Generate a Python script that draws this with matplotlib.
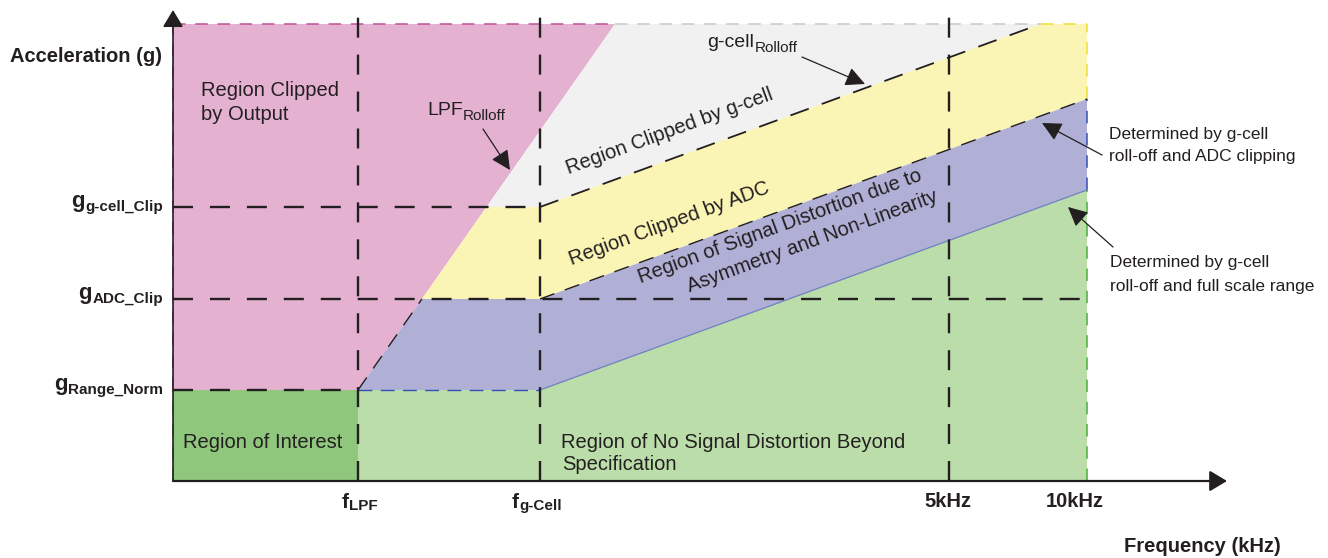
import matplotlib
matplotlib.use("Agg")
import matplotlib.pyplot as plt
import numpy as np

plt.rcParams["font.family"] = ["Liberation Sans", "DejaVu Sans"]
plt.rcParams["lines.scale_dashes"] = False

# schematic axes: frequency breakpoints and acceleration levels (chart units)
freq_names = ["LPF", "g-Cell"]
freq_pos = [185, 367]
khz_labels = ["5kHz", "10kHz"]
khz_pos = [776, 914]
g_names = ["g-cell_Clip", "ADC_Clip", "Range_Norm"]
g_levels = [274, 182, 91]
g_top = 457          # top of the plotted range
lpf_top_f = 442      # frequency where the LPF roll-off reaches the top
rolloff_rise = 200   # rise of the g-cell roll-off lines between f_g-Cell and 10kHz

f_lpf, f_gcell = freq_pos
f_5k, f_10k = khz_pos
g_gcell, g_adc, g_norm = g_levels

INK = "#231f20"
PINK, GREY, YELLOW = "#e4b1d0", "#f1f1f1", "#faf5b4"
PURPLE, LGREEN, DGREEN = "#b0afd6", "#bbddaa", "#8fc87c"


def lpf_f(g):
    return f_lpf + (g - g_norm) * (lpf_top_f - f_lpf) / (g_top - g_norm)


def roll_g(g0, f):
    return g0 + rolloff_rise * (f - f_gcell) / (f_10k - f_gcell)


def roll_f(g0, g):
    return f_gcell + (g - g0) * (f_10k - f_gcell) / rolloff_rise


fig = plt.figure(figsize=(13.28, 5.58), dpi=100)
ax = fig.add_axes([0, 0, 1, 1])
ax.set_xlim(-173, 1155)
ax.set_ylim(-77, 481)
ax.axis("off")

f_cap = roll_f(g_gcell, g_top)

# regions
regions = [
    (PINK, [0, lpf_f(g_top), f_lpf, 0], [g_top, g_top, g_norm, g_norm]),
    (GREY, [lpf_f(g_gcell), lpf_f(g_top), f_cap, f_gcell],
     [g_gcell, g_top, g_top, g_gcell]),
    (YELLOW, [lpf_f(g_adc), lpf_f(g_gcell), f_gcell, f_cap, f_10k, f_10k, f_gcell],
     [g_adc, g_gcell, g_gcell, g_top, g_top, roll_g(g_adc, f_10k), g_adc]),
    (PURPLE, [f_lpf, lpf_f(g_adc), f_gcell, f_10k, f_10k, f_gcell],
     [g_norm, g_adc, g_adc, roll_g(g_adc, f_10k), roll_g(g_norm, f_10k), g_norm]),
    (LGREEN, [f_lpf, f_lpf, f_gcell, f_10k, f_10k],
     [0, g_norm, g_norm, roll_g(g_norm, f_10k), 0]),
    (DGREEN, [0, f_lpf, f_lpf, 0], [0, 0, g_norm, g_norm]),
]
for col, xs, ys in regions:
    ax.fill(xs, ys, color=col, lw=0, zorder=1)

# coloured region edges
thin = dict(lw=1.1, dashes=(9, 7), zorder=2)
ax.plot([0, lpf_f(g_top)], [g_top, g_top], color="#c0509a", **thin)
ax.plot([lpf_f(g_top), f_cap], [g_top, g_top], color="#c8c8c8", **thin)
ax.plot([f_cap, f_10k], [g_top, g_top], color="#f0e030", **thin)
ax.plot([0, 0], [g_norm, g_top], color="#c0509a", **thin)
ax.plot([0, 0], [0, g_norm], color="#4cae3c", **thin)
ax.plot([f_10k, f_10k], [roll_g(g_adc, f_10k), g_top], color="#f0e030", **thin)
ax.plot([f_10k, f_10k], [roll_g(g_norm, f_10k), roll_g(g_adc, f_10k)], color="#3550b8", **thin)
ax.plot([f_10k, f_10k], [0, roll_g(g_norm, f_10k)], color="#4cae3c", **thin)
ax.plot([f_lpf, f_gcell], [g_norm, g_norm], color="#3550b8", lw=1.0, dashes=(10, 6), zorder=2)
ax.plot([f_gcell, f_10k], [g_norm, roll_g(g_norm, f_10k)], color="#6f7fc4", lw=0.9, zorder=2)

# black dashed guide lines
dash = dict(color=INK, lw=1.7, dashes=(14.4, 12.2), zorder=3)
for f in [f_lpf, f_gcell, f_5k]:
    ax.plot([f, f], [0, 466], **dash)
ax.plot([0, f_gcell], [g_gcell, g_gcell], **dash)
ax.plot([0, f_10k], [g_adc, g_adc], **dash)
ax.plot([0, f_lpf], [g_norm, g_norm], **dash)
ax.plot([f_gcell, f_cap], [g_gcell, g_top], color=INK, lw=1.3, dashes=(14, 10), zorder=3)
ax.plot([f_gcell, f_10k], [g_adc, roll_g(g_adc, f_10k)], color=INK, lw=1.0, dashes=(11, 8), zorder=3)
ax.plot([f_lpf, lpf_f(g_adc)], [g_norm, g_adc], color=INK, lw=1.0, dashes=(11, 8), zorder=3)

# axes with arrows
ax.annotate("", xy=(0, 471), xytext=(0, 0), zorder=4,
            arrowprops=dict(arrowstyle="-|>,head_length=0.7,head_width=0.42", mutation_scale=15,
                            lw=1.2, color=INK, shrinkA=0, shrinkB=0))
ax.annotate("", xy=(1054, 0), xytext=(0, 0), zorder=4,
            arrowprops=dict(arrowstyle="-|>,head_length=0.7,head_width=0.42", mutation_scale=15,
                            lw=1.6, color=INK, shrinkA=0, shrinkB=0))


def label_left(x, y, main, sub, size, sub_size, drop, weight="normal"):
    t = ax.text(x, y, main, ha="left", va="baseline", fontsize=size,
                fontweight=weight, color=INK, zorder=5)
    ax.annotate(sub, xy=(1, y - drop), xycoords=(t, "data"), xytext=(0.3, 0),
                textcoords="offset points", ha="left", va="baseline",
                fontsize=sub_size, fontweight=weight, color=INK, zorder=5)


def label_right(x, y, main, sub, size, sub_size, drop, weight="normal"):
    s = ax.text(x, y - drop, sub, ha="right", va="baseline", fontsize=sub_size,
                fontweight=weight, color=INK, zorder=5)
    ax.annotate(main, xy=(0, y), xycoords=(s, "data"), xytext=(-0.3, 0),
                textcoords="offset points", ha="right", va="baseline",
                fontsize=size, fontweight=weight, color=INK, zorder=5)


# axis labels
ax.text(-163, 424, "Acceleration (g)", ha="left", va="center", fontsize=14.5,
        fontweight="bold", color=INK)
ax.text(1029, -66, "Frequency (kHz)", ha="center", va="center", fontsize=14.5,
        fontweight="bold", color=INK)
for name, lev in zip(g_names, g_levels):
    label_right(-10, lev, "g", name, 16, 11, 4, weight="bold")
for name, f, off in zip(freq_names, freq_pos, [-16, -28]):
    label_left(f + off, -27, "f", name, 15, 11, 2, weight="bold")
for lab, f, off in zip(khz_labels, khz_pos, [-1, -12]):
    ax.text(f + off, -26, lab, ha="center", va="baseline", fontsize=14.5,
            fontweight="bold", color=INK)

# region labels
txt = dict(fontsize=14.5, color=INK, zorder=5)
ax.text(28, 391, "Region Clipped", ha="left", va="center", **txt)
ax.text(28, 366, "by Output", ha="left", va="center", **txt)
ax.text(10, 39, "Region of Interest", ha="left", va="center", **txt)
ax.text(388, 38, "Region of No Signal Distortion Beyond", ha="left", va="center", **txt)
ax.text(389, 16, "Specification", ha="left", va="center", **txt)

ang = np.degrees(np.arctan2(rolloff_rise, f_10k - f_gcell))
rot = dict(rotation=ang, rotation_mode="anchor", ha="center", va="center", **txt)
ax.text(497, 350, "Region Clipped by g-cell", **rot)
ax.text(496, 257, "Region Clipped by ADC", **rot)
ax.text(607, 255, "Region of Signal Distortion due to", **rot)
ax.text(639, 240, "Asymmetry and Non-Linearity", **rot)

label_left(254, 366, "LPF", "Rolloff", 14, 11, 5.5)
label_left(534, 434, "g-cell", "Rolloff", 14, 11, 5.5)

# callout arrows
arr = dict(arrowstyle="-|>,head_length=0.85,head_width=0.42", mutation_scale=14,
           lw=0.9, color=INK, shrinkA=0, shrinkB=0)
ax.annotate("", xy=(337, 311), xytext=(310, 352), arrowprops=arr, zorder=5)
ax.annotate("", xy=(692, 397), xytext=(629, 424), arrowprops=arr, zorder=5)
ax.annotate("", xy=(869, 358), xytext=(929, 326), arrowprops=arr, zorder=5)
ax.annotate("", xy=(895, 274), xytext=(940, 234), arrowprops=arr, zorder=5)

note = dict(fontsize=12.5, color=INK, ha="left", va="center")
ax.text(936, 346, "Determined by g-cell", **note)
ax.text(936, 325, "roll-off and ADC clipping", **note)
ax.text(937, 218, "Determined by g-cell", **note)
ax.text(937, 194, "roll-off and full scale range", **note)

fig.savefig("out.png", dpi=100)
